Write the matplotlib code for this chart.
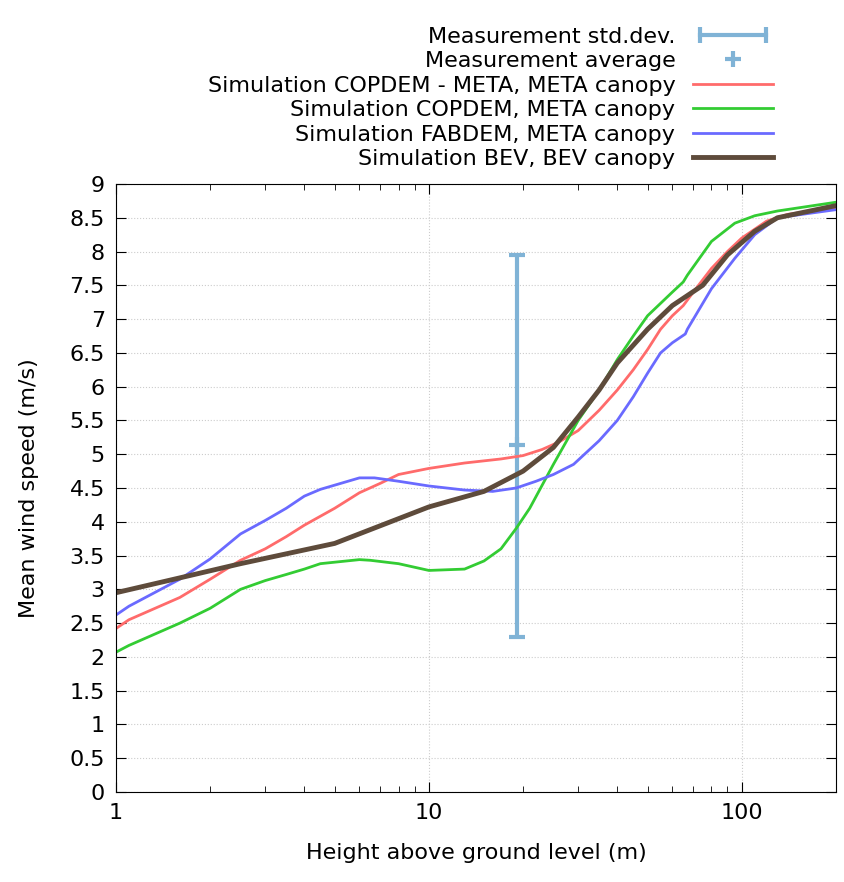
import matplotlib
matplotlib.use("Agg")
import matplotlib.pyplot as plt
from matplotlib.lines import Line2D
from matplotlib.legend_handler import HandlerLine2D
import numpy as np

# measurement
meas_h = 19.1
meas_mean = 5.13
meas_low, meas_high = 2.3, 7.95

red_h = [1, 1.1, 1.6, 2, 2.5, 3, 3.5, 4, 5, 6, 7, 8, 10, 13, 17, 20, 23, 26, 30, 35, 40, 45, 50, 55, 60, 65, 70, 80, 90, 100, 120, 140, 200]
red_v = [2.42, 2.55, 2.88, 3.15, 3.43, 3.6, 3.78, 3.95, 4.2, 4.43, 4.57, 4.7, 4.79, 4.87, 4.93, 4.98, 5.07, 5.18, 5.35, 5.65, 5.95, 6.25, 6.55, 6.85, 7.05, 7.2, 7.4, 7.75, 8.0, 8.2, 8.45, 8.55, 8.65]

green_h = [1, 1.1, 1.6, 2, 2.5, 3, 3.5, 4, 4.5, 6, 6.5, 8, 10, 13, 15, 17, 19, 21, 25, 30, 35, 40, 45, 50, 60, 65, 67, 80, 95, 110, 130, 200]
green_v = [2.07, 2.17, 2.5, 2.72, 3.0, 3.13, 3.22, 3.3, 3.38, 3.44, 3.43, 3.38, 3.28, 3.3, 3.42, 3.6, 3.9, 4.2, 4.85, 5.5, 5.95, 6.4, 6.75, 7.05, 7.4, 7.55, 7.65, 8.15, 8.42, 8.53, 8.6, 8.73]

blue_h = [1, 1.1, 1.6, 2, 2.5, 3, 3.5, 4, 4.5, 6, 6.7, 8, 10, 13, 16, 19, 22, 25, 29, 35, 40, 45, 50, 55, 60, 66, 67, 80, 95, 110, 130, 200]
blue_v = [2.62, 2.75, 3.15, 3.45, 3.82, 4.02, 4.2, 4.38, 4.48, 4.65, 4.65, 4.6, 4.53, 4.47, 4.45, 4.5, 4.6, 4.7, 4.85, 5.2, 5.5, 5.85, 6.2, 6.5, 6.65, 6.78, 6.85, 7.45, 7.9, 8.25, 8.5, 8.62]

bev_h = [1, 1.6, 2.5, 5, 10, 15, 20, 25, 30, 35, 40, 50, 60, 75, 90, 110, 130, 200]
bev_v = [2.95, 3.17, 3.38, 3.68, 4.22, 4.45, 4.75, 5.1, 5.55, 5.95, 6.35, 6.85, 7.2, 7.5, 7.95, 8.3, 8.5, 8.68]

MEAS_C = "#80b3d6"

fig = plt.figure(figsize=(8.44, 8.82), dpi=100)
ax = fig.add_axes([0.1374, 0.102, 0.8531, 0.6894])

ax.errorbar([meas_h], [meas_mean],
            yerr=[[meas_mean - meas_low], [meas_high - meas_mean]],
            fmt="none", ecolor=MEAS_C, elinewidth=3, capsize=6, capthick=3)
avg, = ax.plot([meas_h], [meas_mean], "+", color=MEAS_C, ms=12, mew=3, label="Measurement average")
r, = ax.plot(red_h, red_v, color="#ff6b6b", lw=2, label="Simulation COPDEM - META, META canopy")
g, = ax.plot(green_h, green_v, color="#33cc33", lw=2, label="Simulation COPDEM, META canopy")
b, = ax.plot(blue_h, blue_v, color="#6a6aff", lw=2, label="Simulation FABDEM, META canopy")
k, = ax.plot(bev_h, bev_v, color="#5e4b3b", lw=3.5, label="Simulation BEV, BEV canopy")

std_proxy = Line2D([0], [0], color=MEAS_C, lw=3, marker="|", ms=12, mew=3)

ax.set_xscale("log")
ax.set_xlim(1, 200)
ax.set_ylim(0, 9)
yt = np.arange(0, 9.01, 0.5)
ax.set_yticks(yt)
ax.set_yticklabels([f"{v:g}" for v in yt])
ax.set_xticks([1, 10, 100])
ax.set_xticklabels(["1", "10", "100"])
ax.tick_params(which="both", direction="in", top=True, right=True, labelsize=16)
ax.tick_params(which="major", length=7, pad=8)
ax.tick_params(which="minor", length=4)
ax.grid(True, which="major", color="#cccccc", ls=":", lw=0.8)
ax.set_xlabel("Height above ground level (m)", fontsize=16, labelpad=14)
ax.set_ylabel("Mean wind speed (m/s)", fontsize=16, labelpad=22)

ax.legend([std_proxy, avg, r, g, b, k],
          ["Measurement std.dev.", "Measurement average",
           "Simulation COPDEM - META, META canopy", "Simulation COPDEM, META canopy",
           "Simulation FABDEM, META canopy", "Simulation BEV, BEV canopy"],
          handler_map={std_proxy: HandlerLine2D(numpoints=2)},
          loc="lower right", bbox_to_anchor=(0.925, 1.01), frameon=False,
          markerfirst=False, fontsize=16, handlelength=3.6, labelspacing=0.2,
          borderaxespad=0.0, handletextpad=0.8, numpoints=1)

fig.savefig("out.png", dpi=100)
